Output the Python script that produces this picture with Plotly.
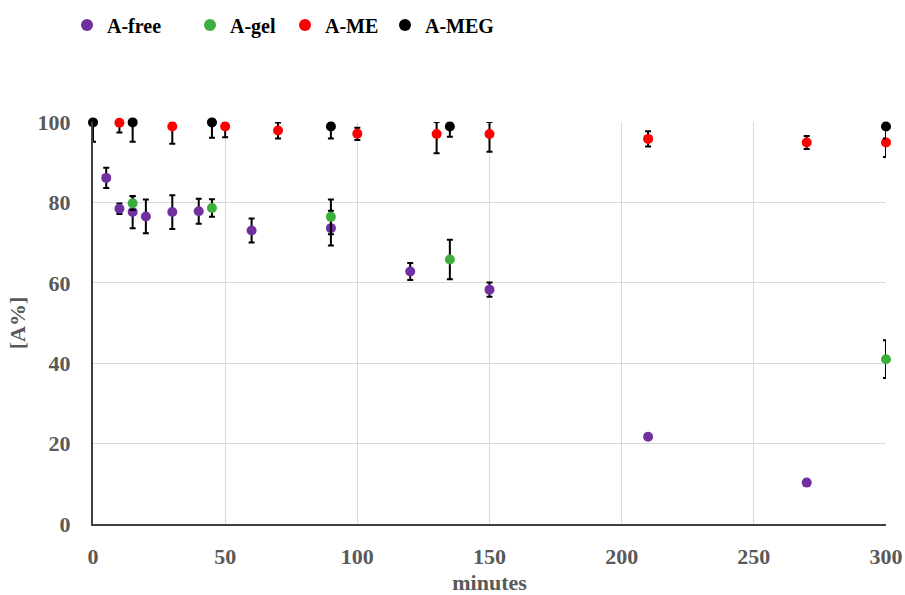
import plotly.graph_objects as go

# ---- data ----
free_x = [5, 10, 15, 20, 30, 40, 60, 90, 120, 150, 210, 270]
free_y = [86.1, 78.4, 77.6, 76.5, 77.6, 77.8, 73.0, 73.6, 62.8, 58.3, 21.7, 10.3]
free_err = [2.5, 1.3, 4.0, 4.2, 4.2, 3.1, 3.0, 4.3, 2.1, 1.8, 0.0, 0.0]

gel_x = [15, 45, 90, 135, 300]
gel_y = [79.8, 78.6, 76.4, 65.8, 41.0]
gel_err = [1.7, 2.2, 4.3, 4.9, 4.7]

me_x = [10, 30, 50, 70, 100, 130, 150, 210, 270, 300]
me_y = [99.8, 98.9, 98.9, 97.9, 97.1, 97.0, 97.0, 95.8, 94.9, 94.9]
me_err_plus = [0.2, 1.0, 1.0, 2.0, 1.5, 3.0, 3.0, 1.9, 1.6, 3.6]
me_err_minus = [2.4, 4.3, 2.7, 2.0, 1.6, 4.8, 4.4, 1.9, 1.6, 3.6]

meg_x = [0, 15, 45, 90, 135, 300]
meg_y = [99.9, 99.9, 99.9, 98.9, 98.9, 98.9]
meg_err_plus = [0.1, 0.1, 0.1, 1.0, 1.0, 1.0]
meg_err_minus = [4.8, 4.8, 3.8, 3.0, 2.6, 3.0]

series_names = ["A-free", "A-gel", "A-ME", "A-MEG"]
colors = ["#7030A0", "#3DAE3D", "#FF0000", "#000000"]

x_ticks = [0, 50, 100, 150, 200, 250, 300]
y_ticks = [0, 20, 40, 60, 80, 100]

FONT = "Liberation Serif"

fig = go.Figure()

def add(name, x, y, plus, minus, color, legend):
    fig.add_trace(go.Scatter(
        x=x, y=y, mode="markers", name=name,
        marker=dict(color=color, size=10, line=dict(width=0)),
        error_y=dict(type="data", array=plus, arrayminus=minus, symmetric=False,
                     color="#000000", thickness=2, width=3),
        cliponaxis=False, legend=legend,
    ))

add(series_names[0], free_x, free_y, free_err, free_err, colors[0], "legend")
add(series_names[1], gel_x, gel_y, gel_err, gel_err, colors[1], "legend2")
add(series_names[2], me_x, me_y, me_err_plus, me_err_minus, colors[2], "legend3")
add(series_names[3], meg_x, meg_y, meg_err_plus, meg_err_minus, colors[3], "legend4")

L, R, T, B = 93, 19, 122, 71
PW = 905 - L - R
PH = 595 - T - B

def leg(px):
    return dict(
        x=(px - L) / PW, xanchor="left", y=1 + (T - 25) / PH, yanchor="middle",
        orientation="h", bgcolor="rgba(0,0,0,0)",
        font=dict(family=FONT, size=20, color="#000000", weight="bold"),
        itemsizing="constant",
    )

fig.update_layout(
    width=905, height=595,
    margin=dict(l=L, r=R, t=T, b=B, autoexpand=False),
    paper_bgcolor="white", plot_bgcolor="white",
    showlegend=True,
    legend=leg(89 - 22), legend2=leg(212 - 22), legend3=leg(307 - 22), legend4=leg(407 - 22),
    font=dict(family=FONT, color="#595959"),
)

fig.update_xaxes(
    range=[0, 300], tickvals=x_ticks, ticktext=[str(v) for v in x_ticks],
    showgrid=True, gridcolor="#D9D9D9", gridwidth=1,
    showline=True, linecolor="#404040", linewidth=2,
    zeroline=False, ticks="", ticklabelstandoff=12, automargin=False,
    tickfont=dict(family=FONT, size=22, color="#595959", weight="bold"),
    title=dict(text="minutes", standoff=6,
               font=dict(family=FONT, size=22, color="#595959", weight="bold")),
)
fig.update_yaxes(
    range=[0, 100], tickvals=y_ticks, ticktext=[str(v) for v in y_ticks],
    showgrid=True, gridcolor="#D9D9D9", gridwidth=1,
    showline=True, linecolor="#404040", linewidth=2,
    zeroline=False, ticks="", ticklabelstandoff=16, automargin=False,
    tickfont=dict(family=FONT, size=22, color="#595959", weight="bold"),
    title=dict(text="[A%]", standoff=6,
               font=dict(family=FONT, size=22, color="#595959", weight="bold")),
)

fig.write_html("out.html")
